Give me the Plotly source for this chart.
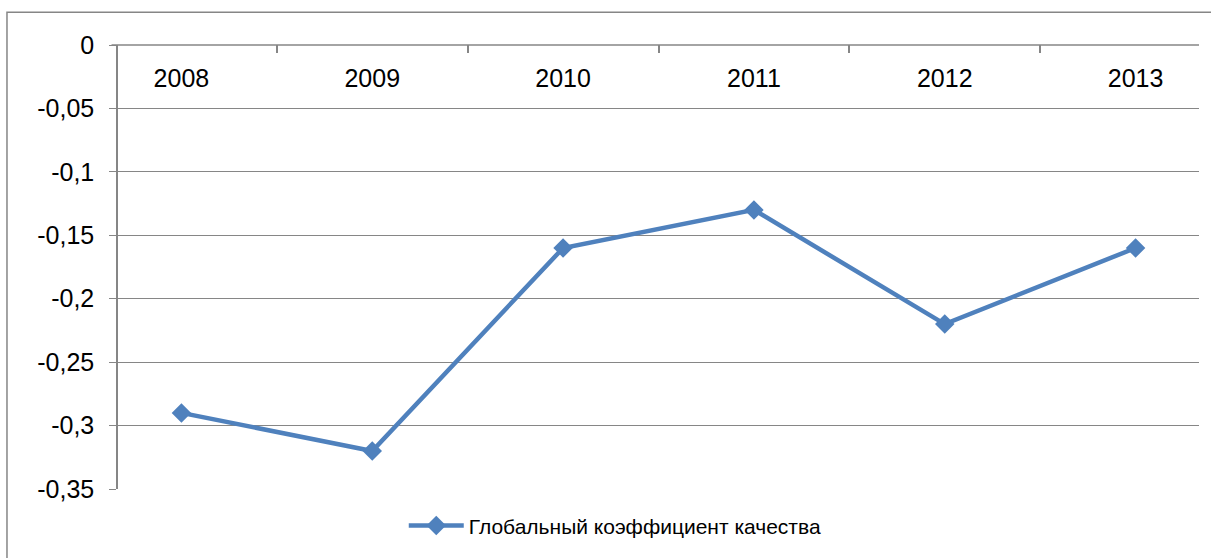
import plotly.graph_objects as go

years = ["2008", "2009", "2010", "2011", "2012", "2013"]
quality = [-0.29, -0.32, -0.16, -0.13, -0.22, -0.16]
series_name = "Глобальный коэффициент качества"

y_ticks = [0, -0.05, -0.1, -0.15, -0.2, -0.25, -0.3, -0.35]
y_labels = ["0", "-0,05", "-0,1", "-0,15", "-0,2", "-0,25", "-0,3", "-0,35"]

grey = "#868686"
blue = "#4F81BD"
font = "Liberation Sans, Arial, sans-serif"

fig = go.Figure(go.Scatter(
    x=years, y=quality, name=series_name, mode="lines+markers",
    line=dict(color=blue, width=4.5),
    marker=dict(symbol="diamond", size=15, color=blue),
))

fig.update_layout(
    width=1211, height=558,
    margin=dict(l=118, r=12, t=45, b=67),
    paper_bgcolor="white", plot_bgcolor="white",
    font=dict(family=font, size=25, color="black"),
    showlegend=True,
    legend=dict(orientation="h", x=0.46, xanchor="center", y=-0.083, yanchor="middle",
                font=dict(size=21), itemwidth=55),
    # category axis sits just under the top edge: ticks point up to the 0 line, labels hang below
    xaxis=dict(side="bottom", anchor="free", position=0.982, type="category",
               tickson="boundaries", ticks="inside", ticklen=8, tickwidth=1.5, tickcolor=grey,
               showline=False, ticklabelstandoff=8, automargin=False,
               showgrid=False, zeroline=False),
    yaxis=dict(range=[-0.35, 0], tickvals=y_ticks, ticktext=y_labels, ticks="outside",
               ticklen=7, tickcolor=grey, showline=True, linecolor=grey, linewidth=1.5,
               showgrid=True, gridcolor=grey, gridwidth=1.2, zeroline=False,
               ticklabelstandoff=10, automargin=False),
    shapes=[
        dict(type="rect", xref="paper", yref="paper", x0=-0.1027, x1=1.05,
             y0=-0.3, y1=1.074, line=dict(color=grey, width=1.5), layer="below"),
        # category axis line along the top (value 0)
        dict(type="line", xref="paper", yref="paper", x0=-0.006, x1=1, y0=1, y1=1,
             line=dict(color=grey, width=1.5)),
    ],
)

fig.write_html("out.html", config={"displayModeBar": False},
               post_script="document.body.style.margin='0';")
